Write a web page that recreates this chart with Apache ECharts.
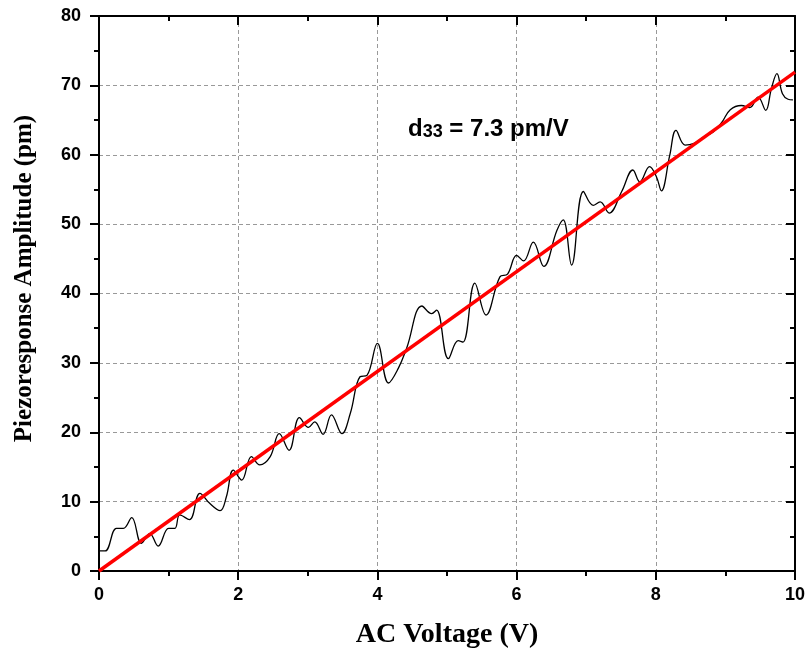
<!DOCTYPE html>
<html>
<head>
<meta charset="utf-8">
<script src="https://cdn.jsdelivr.net/npm/echarts@6/dist/echarts.min.js"></script>
<style>html,body{margin:0;padding:0;background:#fff}#c{width:811px;height:650px}</style>
</head>
<body>
<div id="c"></div>
<script>
var voltage = [0.01,0.09,0.25,0.35,0.47,0.61,0.73,0.85,1.0,1.09,1.16,1.30,1.45,1.59,1.74,1.83,1.93,2.05,2.19,2.31,2.46,2.59,2.73,2.88,3.01,3.10,3.22,3.34,3.49,3.61,3.75,3.85,4.00,4.16,4.30,4.42,4.64,4.78,4.85,5.02,5.16,5.23,5.40,5.56,5.76,5.87,6.0,6.10,6.24,6.39,6.58,6.67,6.79,6.96,7.10,7.20,7.33,7.51,7.67,7.77,7.91,8.01,8.08,8.20,8.29,8.42,8.54,8.68,8.83,8.95,9.07,9.23,9.35,9.47,9.58,9.66,9.74,9.82,9.90,9.97];
var amplitude = [2.9,2.9,6.15,6.15,7.7,4.0,5.4,3.6,6.15,6.15,8.1,7.4,11.2,9.75,8.7,10.7,14.55,13.1,16.5,15.3,16.5,19.8,17.4,22.1,20.7,21.5,19.7,22.5,19.8,22.7,28.0,28.2,32.8,27.1,29.2,32.1,38.2,37.1,37.6,30.6,33.2,33.0,41.5,36.9,42.4,42.8,45.5,44.7,47.4,43.9,49.1,50.6,44.1,54.7,52.7,53.2,51.6,54.7,57.8,56.1,58.3,56.8,54.8,59.9,63.5,61.4,61.6,62.5,63.3,64.7,66.5,67.1,66.8,68.3,66.4,69.5,71.7,68.8,68.0,67.9];
var fitX = [0, 10];
var fitY = [0, 71.9];
var xTicks = [0, 2, 4, 6, 8, 10];
var yTicks = [0, 10, 20, 30, 40, 50, 60, 70, 80];
var xName = 'AC Voltage (V)';
var yName = 'Piezoresponse Amplitude (pm)';

function pairs(a, b) { return a.map(function (v, i) { return [v, b[i]]; }); }

var chart = echarts.init(document.getElementById('c'), null, {renderer: 'canvas'});
var lbl = {fontFamily: 'Liberation Sans, Arial, sans-serif', fontWeight: 'bold', fontSize: 18, color: '#000'};
var axisLine = {show: true, onZero: false, lineStyle: {color: '#000', width: 2}};
chart.setOption({
  animation: false,
  backgroundColor: '#fff',
  grid: {left: 99, right: 16, top: 16, bottom: 79, containLabel: false, outerBoundsMode: 'none'},
  xAxis: [{
    type: 'value', min: xTicks[0], max: xTicks[xTicks.length - 1], interval: 2, position: 'bottom',
    name: xName, nameLocation: 'middle', nameGap: 50,
    nameTextStyle: {fontFamily: 'Liberation Serif, Times New Roman, serif', fontWeight: 'bold', fontSize: 28, color: '#000'},
    axisLine: axisLine,
    axisTick: {show: true, inside: false, length: 9, lineStyle: {color: '#000', width: 2}},
    minorTick: {show: true, splitNumber: 2, length: 5, lineStyle: {color: '#000', width: 2}},
    axisLabel: Object.assign({margin: 15}, lbl),
    splitLine: {show: true, lineStyle: {color: '#999', type: [4, 3], width: 1}}
  }, {
    type: 'value', min: xTicks[0], max: xTicks[xTicks.length - 1], interval: 2, position: 'top',
    axisLine: axisLine,
    axisTick: {show: true, inside: true, length: 9, lineStyle: {color: '#000', width: 2}},
    minorTick: {show: true, splitNumber: 2, length: 5, lineStyle: {color: '#000', width: 2}},
    axisLabel: {show: false}, splitLine: {show: false}
  }],
  yAxis: [{
    type: 'value', min: yTicks[0], max: yTicks[yTicks.length - 1], interval: 10, position: 'left',
    name: yName, nameLocation: 'middle', nameGap: 62, nameRotate: 90,
    nameTextStyle: {fontFamily: 'Liberation Serif, Times New Roman, serif', fontWeight: 'bold', fontSize: 25, color: '#000', padding: [0, 0, 0, 30]},
    axisLine: axisLine,
    axisTick: {show: true, inside: false, length: 9, lineStyle: {color: '#000', width: 2}},
    minorTick: {show: true, splitNumber: 2, length: 5, lineStyle: {color: '#000', width: 2}},
    axisLabel: Object.assign({margin: 18}, lbl),
    splitLine: {show: true, lineStyle: {color: '#999', type: [4, 3], width: 1}}
  }, {
    type: 'value', min: yTicks[0], max: yTicks[yTicks.length - 1], interval: 10, position: 'right',
    axisLine: axisLine,
    axisTick: {show: true, inside: true, length: 9, lineStyle: {color: '#000', width: 2}},
    minorTick: {show: true, splitNumber: 2, length: 5, lineStyle: {color: '#000', width: 2}},
    axisLabel: {show: false}, splitLine: {show: false}
  }],
  graphic: [{
    type: 'text', left: 408, top: 117,
    style: {
      text: '{a|d}{s|33}{a| = 7.3 pm/V}',
      rich: {
        a: {fontFamily: 'Liberation Sans, Arial, sans-serif', fontWeight: 'bold', fontSize: 24, fill: '#000', verticalAlign: 'bottom', lineHeight: 30},
        s: {fontFamily: 'Liberation Sans, Arial, sans-serif', fontWeight: 'bold', fontSize: 18, fill: '#000', verticalAlign: 'bottom', lineHeight: 12}
      }
    }
  }],
  series: [{
    type: 'line', data: pairs(voltage, amplitude), smooth: 0.4, showSymbol: false,
    lineStyle: {color: '#000', width: 1.3}, z: 2
  }, {
    type: 'line', data: pairs(fitX, fitY), showSymbol: false,
    lineStyle: {color: '#ff0000', width: 3.5}, z: 3
  }]
});
</script>
</body>
</html>
